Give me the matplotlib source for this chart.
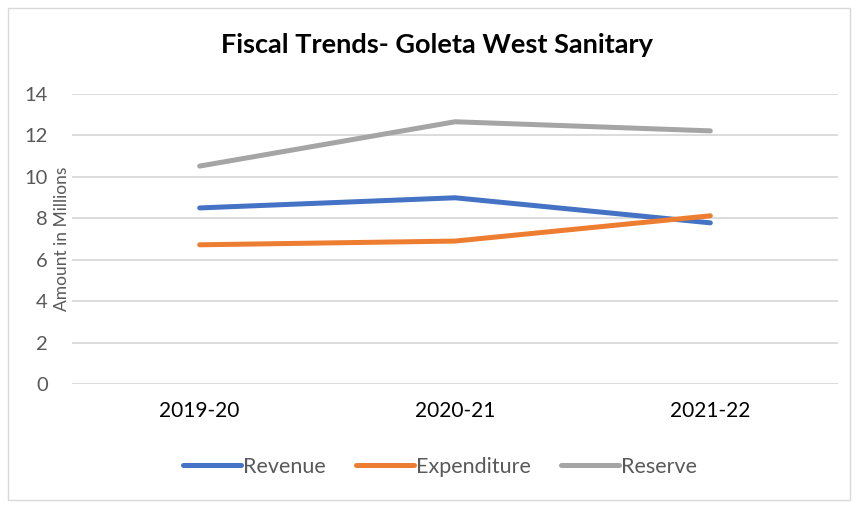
import matplotlib
matplotlib.use("Agg")
import matplotlib.pyplot as plt
from matplotlib.patches import Rectangle

categories = ["2019-20", "2020-21", "2021-22"]
revenue = [8.5, 8.99, 7.78]
expenditure = [6.72, 6.9, 8.12]
reserve = [10.52, 12.66, 12.22]
yticks = [0, 2, 4, 6, 8, 10, 12, 14]

plt.rcParams['font.family'] = ['Lato', 'DejaVu Sans']

fig = plt.figure(figsize=(8.57, 5.08), dpi=100)
fig.patches.append(Rectangle((8/857, 1-500/508), 842/857, 492/508, transform=fig.transFigure,
                             fill=False, edgecolor='#D9D9D9', linewidth=1.0))
ax = fig.add_axes([72/857, 1-384/508, 766/857, 290/508])

x = list(range(len(categories)))
ax.plot(x, revenue, color='#4472C4', lw=3.6, solid_capstyle='round', solid_joinstyle='round', label='Revenue')
ax.plot(x, expenditure, color='#ED7D31', lw=3.6, solid_capstyle='round', solid_joinstyle='round', label='Expenditure')
ax.plot(x, reserve, color='#A5A5A5', lw=3.6, solid_capstyle='round', solid_joinstyle='round', label='Reserve')

ax.set_xlim(-0.5, 2.5)
ax.set_ylim(0, 14)
ax.set_yticks(yticks)
ax.set_yticklabels([str(v) for v in yticks], fontsize=14.5, color='#595959')
ax.set_xticks(x)
ax.set_xticklabels(categories, fontsize=15, color='black')
ax.tick_params(axis='both', length=0)
ax.tick_params(axis='y', pad=17.3)
ax.tick_params(axis='x', pad=12)
ax.grid(axis='y', color='#D9D9D9', linewidth=1.3)
ax.set_axisbelow(True)
for s in ax.spines.values():
    s.set_visible(False)

ax.set_ylabel("Amount in Millions", fontsize=12.5, color='#595959')
ax.yaxis.set_label_coords(-2/766, 0.5)

fig.text(437/857, 1-45/508, "Fiscal Trends- Goleta West Sanitary", ha='center', va='center',
         fontsize=19.5, fontweight='bold', color='black')

leg = fig.legend(loc='center', bbox_to_anchor=(440/857, 1-467/508), ncol=3, frameon=False,
                 fontsize=15.5, handlelength=2.7, handletextpad=0.1, columnspacing=1.4)
for t in leg.get_texts():
    t.set_color('#595959')

fig.savefig("out.png", dpi=100)
